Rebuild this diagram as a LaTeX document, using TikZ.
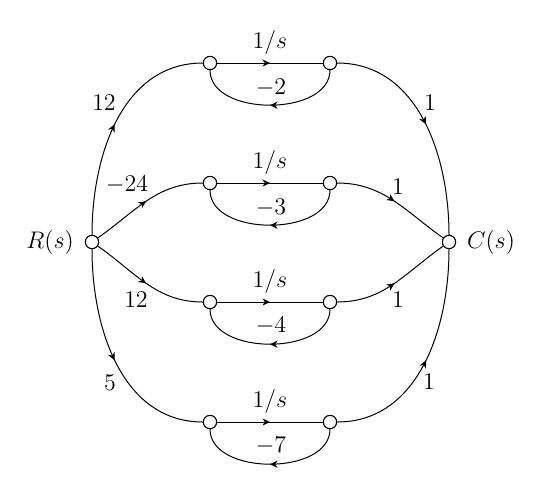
\documentclass[tikz,border=0pt]{standalone}
\usetikzlibrary{arrows.meta,decorations.markings}
\begin{document}
\begin{tikzpicture}[x=0.5pt,y=-0.5pt,font=\fontsize{12.3}{14}\selectfont,
  nd/.style={circle,draw,fill=white,line width=0.5pt,minimum size=6.6pt,inner sep=0pt},
  br/.style={line width=0.5pt},
  midarrow/.style={postaction={decorate},decoration={markings,
     mark=at position 0.5 with {\arrow{Stealth[length=3.8pt,width=3.6pt]}}}},
  lbl/.style={inner sep=0pt}]
\useasboundingbox (0,0) rectangle (540,500);
% nodes
\node[nd] (R) at (92,242) {};
\node[nd] (C) at (449,242) {};
\node[nd] (a1) at (210,63) {};
\node[nd] (b1) at (330,63) {};
\node[nd] (a2) at (210,183) {};
\node[nd] (b2) at (330,183) {};
\node[nd] (a3) at (210,302) {};
\node[nd] (b3) at (330,302) {};
\node[nd] (a4) at (210,422) {};
\node[nd] (b4) at (330,422) {};
% input branches
\draw[br,midarrow] (R) to[out=90,in=180] (a1);
\draw[br,midarrow] (R) to[out=35,in=180] (a2);
\draw[br,midarrow] (R) to[out=-35,in=180] (a3);
\draw[br,midarrow] (R) to[out=-90,in=180] (a4);
% forward 1/s branches
\draw[br,midarrow] (a1) -- (b1);
\draw[br,midarrow] (a2) -- (b2);
\draw[br,midarrow] (a3) -- (b3);
\draw[br,midarrow] (a4) -- (b4);
% feedback loops
\draw[br,midarrow] (b1.south) to[out=-90,in=-90] (a1.south);
\draw[br,midarrow] (b2.south) to[out=-90,in=-90] (a2.south);
\draw[br,midarrow] (b3.south) to[out=-90,in=-90] (a3.south);
\draw[br,midarrow] (b4.south) to[out=-90,in=-90] (a4.south);
% output branches
\draw[br,midarrow] (b1) to[out=0,in=90] (C);
\draw[br,midarrow] (b2) to[out=0,in=145] (C);
\draw[br,midarrow] (b3) to[out=0,in=-145] (C);
\draw[br,midarrow] (b4) to[out=0,in=-90] (C);
% redraw nodes on top
\foreach \n in {R,C,a1,b1,a2,b2,a3,b3,a4,b4} {\draw[line width=0.5pt,fill=white] (\n) circle (3.3pt);}
% labels
\node[lbl] (lR) at (50,242) {$R(s)$};
\node[lbl] (lC) at (491,242) {$C(s)$};
\node[lbl] (t1) at (270,42) {$1/s$};
\node[lbl] (t2) at (270,162) {$1/s$};
\node[lbl] (t3) at (270,281) {$1/s$};
\node[lbl] (t4) at (270,401) {$1/s$};
\node[lbl] (f1) at (271,88) {$-2$};
\node[lbl] (f2) at (271,208) {$-3$};
\node[lbl] (f3) at (271,326) {$-4$};
\node[lbl] (f4) at (271,446) {$-7$};
\node[lbl] (g1) at (104,103) {$12$};
\node[lbl] (g2) at (127,185) {$-24$};
\node[lbl] (g3) at (136,300) {$12$};
\node[lbl] (g4) at (110,383) {$5$};
\node[lbl] (h1) at (430,103) {$1$};
\node[lbl] (h2) at (398,187) {$1$};
\node[lbl] (h3) at (398,300) {$1$};
\node[lbl] (h4) at (429,382) {$1$};
\end{tikzpicture}
\end{document}
